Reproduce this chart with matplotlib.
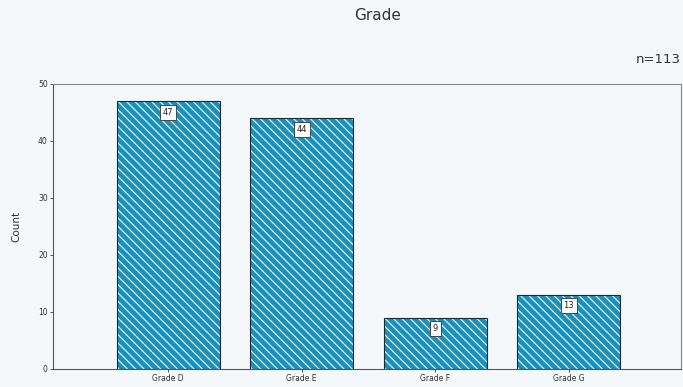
import matplotlib
matplotlib.use("Agg")
from matplotlib import pyplot as plt

plt.rcParams['hatch.linewidth'] = 0.9

grades = ["Grade D", "Grade E", "Grade F", "Grade G"]
counts = [47, 44, 9, 13]
total = 113

bg = '#f4f8fb'
bar_color = '#1a90ba'

fig = plt.figure(figsize=(6.83, 3.87), dpi=100, facecolor=bg)
ax = fig.add_axes([0.078, 0.047, 0.919, 0.736], facecolor=bg)

x = list(range(len(grades)))
# hatched fill first (hatch takes the edge colour), then the dark outline
ax.bar(x, counts, width=0.77, color=bar_color, edgecolor='#d8f0f8',
       linewidth=0, hatch='\\\\\\\\')
ax.bar(x, counts, width=0.77, color='none', edgecolor='#1a2a33', linewidth=0.8)

# value boxes just under the top of each bar
for xi, c in zip(x, counts):
    ax.annotate(str(c), (xi, c), xytext=(0, -8), textcoords='offset points',
                ha='center', va='center', fontsize=6, color='#222222',
                bbox=dict(boxstyle='square,pad=0.35', fc='white', ec='#333333', lw=0.6))

ax.set_xlim(-0.86, 3.84)
ax.set_ylim(0, 50)
ax.set_yticks([0, 10, 20, 30, 40, 50])
ax.set_xticks(x)
ax.set_xticklabels(grades)
ax.tick_params(axis='both', labelsize=5.5, length=2.5, width=0.6, colors='#333333', pad=1.5)
ax.set_ylabel('Count', fontsize=7.5, color='#333333', labelpad=12)

for side in ['top', 'right']:
    ax.spines[side].set_color('#888888')
    ax.spines[side].set_linewidth(0.8)
for side in ['left', 'bottom']:
    ax.spines[side].set_color('#555555')
    ax.spines[side].set_linewidth(0.8)

fig.text(0.553, 0.96, 'Grade', ha='center', va='center', fontsize=11, color='#333333')
fig.text(0.997, 0.845, f'n={total}', ha='right', va='center', fontsize=9.5, color='#333333')

plt.savefig('out.png', dpi=100, facecolor=bg)
plt.close()
